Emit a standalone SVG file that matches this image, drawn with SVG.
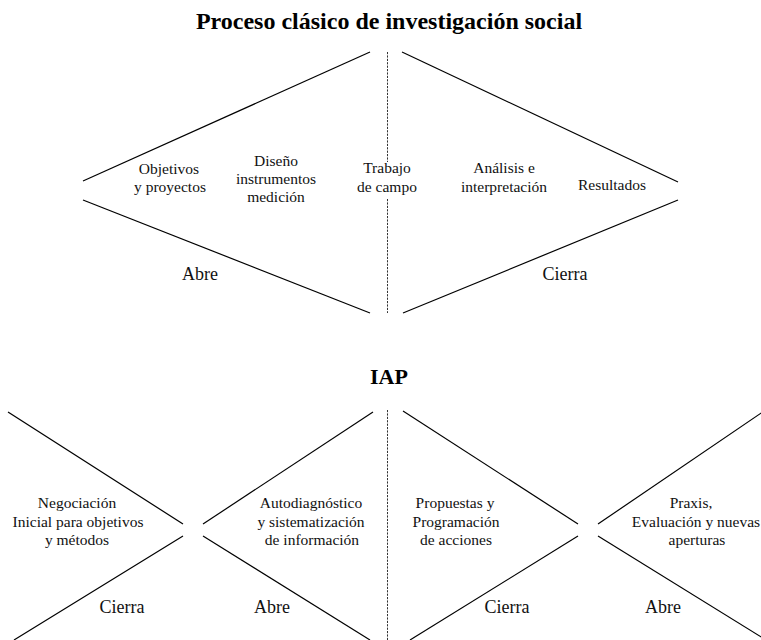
<svg xmlns="http://www.w3.org/2000/svg" width="761" height="640" viewBox="0 0 761 640">
  <style>
    .bg { fill: #ffffff; }
    text { font-family: "Liberation Serif", "DejaVu Serif", serif; }
    .title { font-weight: bold; fill: #000; text-anchor: middle; }
    .lbl { font-size: 15.5px; fill: #111; text-anchor: middle; }
    .dir { font-size: 18px; fill: #111; text-anchor: middle; }
    .edge { stroke: #000; stroke-width: 1.2; fill: none; stroke-linecap: butt; }
    .axis { stroke: #333; stroke-width: 1; stroke-dasharray: 2.2 1.2; fill: none; }
  </style>
  <rect class="bg" x="0" y="0" width="761" height="640"/>

  <!-- Classical social research process -->
  <text id="title-clasico" class="title" x="389" y="29" font-size="24">Proceso clásico de investigación social</text>

  <g id="connectors">
    <!-- top diamond -->
    <line class="edge" x1="83" y1="181" x2="370" y2="52"/>
    <line class="edge" x1="402" y1="52" x2="678" y2="182"/>
    <line class="edge" x1="83" y1="200" x2="370" y2="313"/>
    <line class="edge" x1="678" y1="200" x2="403" y2="313"/>
    <line class="axis" x1="387.5" y1="52" x2="387.5" y2="162"/>
    <line class="axis" x1="387.5" y1="199" x2="387.5" y2="313"/>

    <!-- bottom: left X -->
    <line class="edge" x1="8" y1="412" x2="183" y2="524"/>
    <line class="edge" x1="203" y1="524" x2="373" y2="412"/>
    <line class="edge" x1="183" y1="536" x2="14" y2="640"/>
    <line class="edge" x1="203" y1="536" x2="370" y2="640"/>
    <!-- bottom: right X -->
    <line class="edge" x1="403" y1="411" x2="578" y2="524"/>
    <line class="edge" x1="598" y1="524" x2="770" y2="407"/>
    <line class="edge" x1="578" y1="536" x2="410" y2="640"/>
    <line class="edge" x1="598" y1="536" x2="766" y2="640"/>
    <line class="axis" x1="387.5" y1="410" x2="387.5" y2="640"/>
  </g>

  <g id="objetivos">
    <text class="lbl" x="169" y="174">Objetivos</text>
    <text class="lbl" x="170" y="192">y proyectos</text>
  </g>
  <g id="diseno">
    <text class="lbl" x="276" y="166">Diseño</text>
    <text class="lbl" x="276" y="184">instrumentos</text>
    <text class="lbl" x="276" y="202">medición</text>
  </g>
  <g id="trabajo">
    <text class="lbl" x="387" y="173">Trabajo</text>
    <text class="lbl" x="387" y="192">de campo</text>
  </g>
  <g id="analisis">
    <text class="lbl" x="504" y="173">Análisis e</text>
    <text class="lbl" x="504" y="192">interpretación</text>
  </g>
  <g id="resultados">
    <text class="lbl" x="612" y="190">Resultados</text>
  </g>
  <g id="abre-top">
    <text class="dir" x="200" y="280">Abre</text>
  </g>
  <g id="cierra-top">
    <text class="dir" x="565" y="280">Cierra</text>
  </g>

  <!-- Participatory action research -->
  <text id="title-iap" class="title" x="389" y="384" font-size="22">IAP</text>

  <g id="negociacion">
    <text class="lbl" x="77" y="508">Negociación</text>
    <text class="lbl" x="78" y="527">Inicial para objetivos</text>
    <text class="lbl" x="77" y="545">y métodos</text>
  </g>
  <g id="autodiagnostico">
    <text class="lbl" x="311" y="508">Autodiagnóstico</text>
    <text class="lbl" x="311" y="527">y sistematización</text>
    <text class="lbl" x="312" y="545">de información</text>
  </g>
  <g id="propuestas">
    <text class="lbl" x="455" y="508">Propuestas y</text>
    <text class="lbl" x="456" y="527">Programación</text>
    <text class="lbl" x="456" y="545">de acciones</text>
  </g>
  <g id="praxis">
    <text class="lbl" x="691" y="508">Praxis,</text>
    <text class="lbl" x="696" y="527">Evaluación y nuevas</text>
    <text class="lbl" x="697" y="545">aperturas</text>
  </g>
  <g id="cierra-1">
    <text class="dir" x="122" y="613">Cierra</text>
  </g>
  <g id="abre-1">
    <text class="dir" x="272" y="613">Abre</text>
  </g>
  <g id="cierra-2">
    <text class="dir" x="507" y="613">Cierra</text>
  </g>
  <g id="abre-2">
    <text class="dir" x="663" y="613">Abre</text>
  </g>
</svg>
